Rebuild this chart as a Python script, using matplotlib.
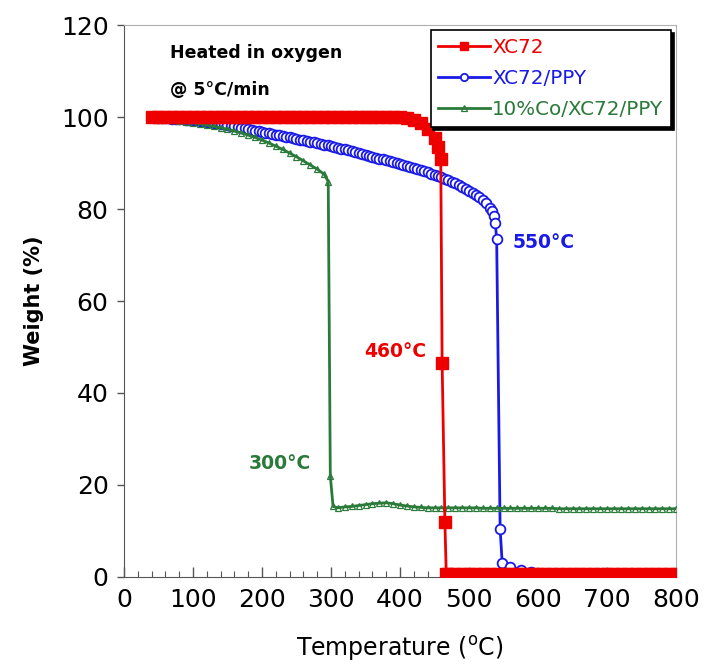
import matplotlib
matplotlib.use("Agg")
import matplotlib.pyplot as plt
from matplotlib.ticker import MultipleLocator

# XC72 (red)
red_temp = [40, 50, 60, 70, 80, 90, 100, 110, 120, 130, 140, 150, 160, 170, 180, 190,
            200, 210, 220, 230, 240, 250, 260, 270, 280, 290, 300, 310, 320, 330, 340,
            350, 360, 370, 380, 390, 400, 410, 420, 430, 440, 450, 455, 459, 461, 465,
            467, 470, 480, 490, 500, 510, 520, 530, 540, 550, 560, 570, 580, 590, 600,
            610, 620, 630, 640, 650, 660, 670, 680, 690, 700, 710, 720, 730, 740, 750,
            760, 770, 780, 790, 800]
red_weight = [100, 100, 100, 100, 100, 100, 100, 100, 100, 100, 100, 100, 100, 100, 100, 100,
              100, 100, 100, 100, 100, 100, 100, 100, 100, 100, 100, 100, 100, 100, 100,
              100, 100, 100, 100, 100, 100, 99.8, 99.5, 98.8, 97.5, 95.5, 93.5, 91, 46.5, 12,
              0.5, 0.5, 0.5, 0.5, 0.5, 0.5, 0.5, 0.5, 0.5, 0.5, 0.5, 0.5, 0.5, 0.5, 0.5,
              0.5, 0.5, 0.5, 0.5, 0.5, 0.5, 0.5, 0.5, 0.5, 0.5, 0.5, 0.5, 0.5, 0.5, 0.5,
              0.5, 0.5, 0.5, 0.5, 0.5]

# XC72/PPY (blue)
blue_temp = [40, 45, 50, 55, 60, 65, 70, 75, 80, 85, 90, 95, 100, 105, 110, 115, 120, 125,
             130, 135, 140, 145, 150, 155, 160, 165, 170, 175, 180, 185, 190, 195, 200,
             205, 210, 215, 220, 225, 230, 235, 240, 245, 250, 255, 260, 265, 270, 275,
             280, 285, 290, 295, 300, 305, 310, 315, 320, 325, 330, 335, 340, 345, 350,
             355, 360, 365, 370, 375, 380, 385, 390, 395, 400, 405, 410, 415, 420, 425,
             430, 435, 440, 445, 450, 455, 460, 465, 470, 475, 480, 485, 490, 495, 500,
             505, 510, 515, 520, 525, 530, 533, 536, 538, 540, 545, 548, 560, 575, 590,
             600, 620, 640, 660, 680, 700, 720, 740, 760, 780]
blue_weight = [100.0, 100.0, 99.9, 99.85, 99.8, 99.75, 99.7, 99.65, 99.6, 99.55, 99.5, 99.45,
               99.4, 99.3, 99.2, 99.1, 99.0, 98.9, 98.8, 98.7, 98.6, 98.45, 98.3, 98.15, 98.0,
               97.85, 97.7, 97.55, 97.4, 97.25, 97.1, 96.95, 96.8, 96.65, 96.5, 96.35, 96.2,
               96.05, 95.9, 95.75, 95.6, 95.45, 95.3, 95.15, 95.0, 94.85, 94.7, 94.55, 94.4,
               94.2, 94.0, 93.85, 93.7, 93.5, 93.3, 93.15, 93.0, 92.8, 92.6, 92.4, 92.2, 92.0,
               91.8, 91.6, 91.4, 91.2, 91.0, 90.8, 90.6, 90.4, 90.2, 90.0, 89.8, 89.6, 89.4,
               89.2, 89.0, 88.75, 88.5, 88.25, 88.0, 87.75, 87.5, 87.2, 86.9, 86.6, 86.3,
               85.95, 85.6, 85.2, 84.8, 84.4, 84.0, 83.6, 83.1, 82.6, 82.0, 81.3, 80.3, 79.6,
               78.5, 77.0, 73.5, 10.5, 3.0, 2.2, 1.5, 1.0,
               0.5, 0, 0, 0, 0, 0, 0, 0, 0, 0]

# 10%Co/XC72/PPY (green)
green_temp = [40, 50, 60, 70, 80, 90, 100, 110, 120, 130, 140, 150, 160, 170, 180, 190,
              200, 210, 220, 230, 240, 250, 260, 270, 280, 290, 296, 299, 303, 310,
              320, 330, 340, 350, 360, 370, 380, 390, 400, 410, 420, 430, 440, 450, 460,
              470, 480, 490, 500, 510, 520, 530, 540, 550, 560, 570, 580, 590, 600, 610,
              620, 630, 640, 650, 660, 670, 680, 690, 700, 710, 720, 730, 740, 750, 760,
              770, 780, 790, 800]
green_weight = [100, 99.8, 99.6, 99.4, 99.2, 99.0, 98.8, 98.6, 98.3, 98.0, 97.7, 97.4, 97.0,
                96.6, 96.1, 95.6, 95.0, 94.4, 93.7, 93.0, 92.2, 91.4, 90.5, 89.6, 88.7, 87.6,
                86.0, 22, 15.3, 15.0,
                15.2, 15.3, 15.5, 15.7, 15.9, 16.0, 16.1, 15.9, 15.6, 15.4, 15.2, 15.1, 15.0,
                15.0, 15.0, 15.0, 15.0, 15.0, 15.0, 15.0, 14.9, 14.9, 14.9, 14.9, 14.9, 14.9,
                14.9, 14.9, 14.9, 14.9, 14.9, 14.8, 14.8, 14.8, 14.8, 14.8, 14.8, 14.8, 14.8,
                14.8, 14.8, 14.8, 14.8, 14.8, 14.8, 14.8, 14.8, 14.8, 14.8]

RED = "#ee0000"
BLUE = "#1a1ae6"
GREEN = "#2a7a3a"

plt.rcParams["font.family"] = ["DejaVu Sans"]

fig = plt.figure(figsize=(7.08, 6.66), dpi=100)
ax = fig.add_axes([0.175, 0.134, 0.78, 0.828])

l_blue, = ax.plot(blue_temp, blue_weight, color=BLUE, lw=2, marker="o", ms=7,
                  mfc="white", mec=BLUE, mew=1.3, zorder=2, label="XC72/PPY")
l_green, = ax.plot(green_temp, green_weight, color=GREEN, lw=2, marker="^", ms=5,
                   mfc="none", mec=GREEN, mew=0.9, zorder=3, label="10%Co/XC72/PPY")
l_red, = ax.plot(red_temp, red_weight, color=RED, lw=2, marker="s", ms=8.5,
                 mfc=RED, mec=RED, zorder=4, label="XC72")

ax.set_xlim(0, 800)
ax.set_ylim(0, 120)
ax.xaxis.set_major_locator(MultipleLocator(100))
ax.xaxis.set_minor_locator(MultipleLocator(20))
ax.yaxis.set_major_locator(MultipleLocator(20))
ax.tick_params(axis="x", which="major", direction="in", length=7, width=1, labelsize=18,
               color="#555555", pad=8)
ax.tick_params(axis="x", which="minor", direction="in", length=4, width=0.8, color="#555555")
ax.tick_params(axis="y", which="major", direction="out", length=5, width=1, labelsize=18,
               color="#555555", pad=6)

for side in ["left", "bottom"]:
    ax.spines[side].set_color("#555555")
for side in ["top", "right"]:
    ax.spines[side].set_color("#b0b0b0")

ax.set_xlabel(r"Temperature ($^{\rm o}$C)", fontsize=17, labelpad=16)
ax.set_ylabel("Weight (%)", fontsize=15, fontweight="bold", labelpad=12)

ax.text(67, 114, "Heated in oxygen", fontsize=12.5, fontweight="bold", va="center", ha="left")
ax.text(67, 106, "@ 5°C/min", fontsize=12.5, fontweight="bold", va="center", ha="left")

ax.text(438, 49, "460°C", color=RED, fontsize=13.5, fontweight="bold", ha="right", va="center")
ax.text(563, 72.7, "550°C", color=BLUE, fontsize=13.5, fontweight="bold", ha="left", va="center")
ax.text(271, 24.7, "300°C", color=GREEN, fontsize=13.5, fontweight="bold", ha="right", va="center")

leg = ax.legend(handles=[l_red, l_blue, l_green], loc="upper right", fontsize=14.3,
                frameon=True, fancybox=False, edgecolor="black", handlelength=2.6,
                labelspacing=0.6, borderaxespad=0.25, handletextpad=0.1, markerscale=0.75,
                shadow={"color": "black", "alpha": 1})
leg.get_frame().set_linewidth(1.2)
for txt, c in zip(leg.get_texts(), [RED, BLUE, GREEN]):
    txt.set_color(c)

fig.savefig("out.png", dpi=100)
